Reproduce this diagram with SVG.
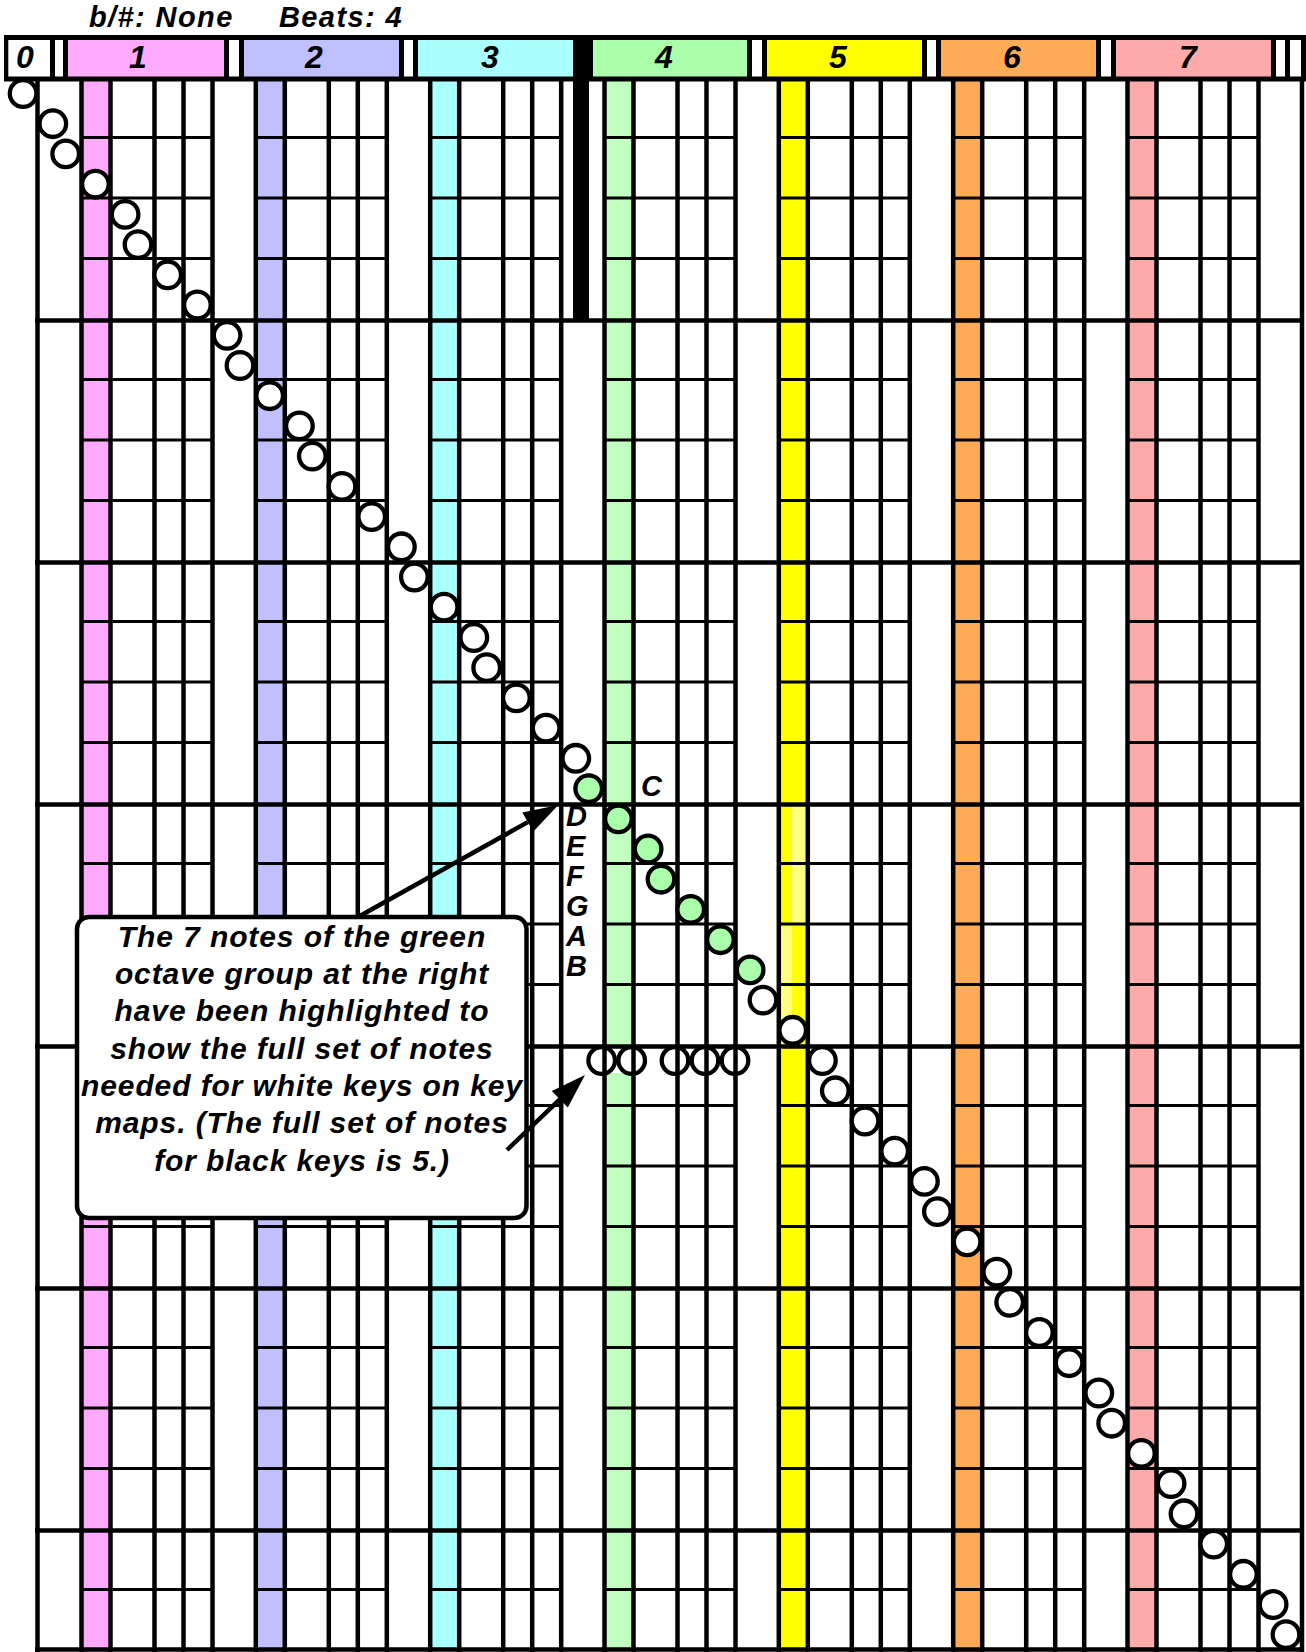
<svg xmlns="http://www.w3.org/2000/svg" xmlns:xlink="http://www.w3.org/1999/xlink" width="1306" height="1652" viewBox="0 0 1306 1652">
<style>
text{font-family:"Liberation Sans",Arial,sans-serif;font-weight:bold;font-style:italic;fill:#000}
.ln{stroke:#000;stroke-width:4.5;fill:none}
.bt{stroke:#000;stroke-width:3;fill:none}
.n{fill:#fff;stroke:#000;stroke-width:4.3}
.g{fill:#aaffaa;stroke:#000;stroke-width:4.3}
.k{fill:none;stroke:#000;stroke-width:4.3}
.hd{font-size:32px;text-anchor:middle}
.tt{font-size:29px;letter-spacing:1.4px}
.lb{font-size:29px}
.ct{font-size:30px;text-anchor:middle;letter-spacing:0.9px}
.ar{stroke:#000;stroke-width:4.5;fill:none}
</style>
<defs>
<g id="oct">
<path class="bt" d="M0 137.5H131M0 198H131M0 258.5H131M0 379.5H131M0 440H131M0 500.5H131M0 621.5H131M0 682H131M0 742.5H131M0 863.5H131M0 924H131M0 984.5H131M0 1105.5H131M0 1166H131M0 1226.5H131M0 1347.5H131M0 1408H131M0 1468.5H131M0 1589.5H131"/>
<path class="ln" d="M0 78V1652M29 78V1652M73 78V1652M102 78V1652M131 78V1652"/>
</g>
</defs>
<rect width="1306" height="1652" fill="#fff"/>
<g id="stripes">
<rect x="81.5" y="80" width="29" height="1572" fill="#ffaaff"/>
<rect x="255.8" y="80" width="29" height="1572" fill="#c0c0ff"/>
<rect x="430.2" y="80" width="29" height="1572" fill="#aaffff"/>
<rect x="604.5" y="80" width="29" height="1572" fill="#c0ffc0"/>
<rect x="778.8" y="80" width="29" height="1572" fill="#ffff00"/>
<rect x="953.2" y="80" width="29" height="1572" fill="#ffaa55"/>
<rect x="1127.5" y="80" width="29" height="1572" fill="#ffaaaa"/>
<rect x="792" y="806.5" width="14" height="119" fill="#ffff80"/>
<rect x="781" y="926.5" width="11" height="119" fill="#ffff80"/>
<rect x="606" y="1048" width="26" height="25" fill="#fff"/>
</g>
<g id="grid">
<use xlink:href="#oct" x="81.5"/>
<use xlink:href="#oct" x="255.8"/>
<use xlink:href="#oct" x="430.2"/>
<use xlink:href="#oct" x="604.5"/>
<use xlink:href="#oct" x="778.8"/>
<use xlink:href="#oct" x="953.2"/>
<use xlink:href="#oct" x="1127.5"/>
<path class="ln" d="M37.5 78V1652M1302 78V1652M35 320.5H1304M35 562.5H1304M35 804.5H1304M35 1046.5H1304M35 1288.5H1304M35 1530.5H1304M35 1649.5H1304"/>
<rect x="573" y="78" width="16" height="242" fill="#000"/>
</g>
<g id="header">
<rect x="4" y="35" width="1302" height="46.5" fill="#000"/>
<rect x="8.3" y="40" width="41.7" height="36.5" fill="#fff"/>
<rect x="55" y="40" width="8" height="36.5" fill="#fff"/>
<rect x="68" y="40" width="156" height="36.5" fill="#ffaaff"/>
<rect x="229" y="40" width="10" height="36.5" fill="#fff"/>
<rect x="244" y="40" width="155" height="36.5" fill="#c0c0ff"/>
<rect x="404" y="40" width="9" height="36.5" fill="#fff"/>
<rect x="418" y="40" width="155" height="36.5" fill="#aaffff"/>
<rect x="593" y="40" width="154" height="36.5" fill="#aaffaa"/>
<rect x="752" y="40" width="10" height="36.5" fill="#fff"/>
<rect x="767" y="40" width="155" height="36.5" fill="#ffff00"/>
<rect x="927" y="40" width="9" height="36.5" fill="#fff"/>
<rect x="941" y="40" width="155" height="36.5" fill="#ffaa55"/>
<rect x="1101" y="40" width="10" height="36.5" fill="#fff"/>
<rect x="1116" y="40" width="155" height="36.5" fill="#ffaaaa"/>
<rect x="1276" y="40" width="9" height="36.5" fill="#fff"/>
<rect x="1290" y="40" width="11" height="36.5" fill="#fff"/>
<text class="hd" x="25" y="68">0</text>
<text class="hd" x="138" y="68">1</text>
<text class="hd" x="314" y="68">2</text>
<text class="hd" x="490" y="68">3</text>
<text class="hd" x="664" y="68">4</text>
<text class="hd" x="838" y="68">5</text>
<text class="hd" x="1012" y="68">6</text>
<text class="hd" x="1188" y="68">7</text>
<text class="tt" x="89" y="27">b/#: None</text>
<text class="tt" x="279" y="27">Beats: 4</text>
</g>
<g id="notes">
<circle id="n1" class="n" cx="23.1" cy="93.5" r="13.3"/>
<circle id="n2" class="n" cx="52.8" cy="123.7" r="13.3"/>
<circle id="n3" class="n" cx="65.7" cy="153.9" r="13.3"/>
<circle id="n4" class="n" cx="95.4" cy="184.2" r="13.3"/>
<circle id="n5" class="n" cx="125.1" cy="214.4" r="13.3"/>
<circle id="n6" class="n" cx="138" cy="244.6" r="13.3"/>
<circle id="n7" class="n" cx="167.7" cy="274.8" r="13.3"/>
<circle id="n8" class="n" cx="197.4" cy="305" r="13.3"/>
<circle id="n9" class="n" cx="227.1" cy="335.3" r="13.3"/>
<circle id="n10" class="n" cx="240" cy="365.5" r="13.3"/>
<circle id="n11" class="n" cx="269.7" cy="395.7" r="13.3"/>
<circle id="n12" class="n" cx="299.4" cy="425.9" r="13.3"/>
<circle id="n13" class="n" cx="312.3" cy="456.1" r="13.3"/>
<circle id="n14" class="n" cx="342" cy="486.4" r="13.3"/>
<circle id="n15" class="n" cx="371.7" cy="516.6" r="13.3"/>
<circle id="n16" class="n" cx="401.4" cy="546.8" r="13.3"/>
<circle id="n17" class="n" cx="414.4" cy="577" r="13.3"/>
<circle id="n18" class="n" cx="444.1" cy="607.2" r="13.3"/>
<circle id="n19" class="n" cx="473.8" cy="637.5" r="13.3"/>
<circle id="n20" class="n" cx="486.7" cy="667.7" r="13.3"/>
<circle id="n21" class="n" cx="516.4" cy="697.9" r="13.3"/>
<circle id="n22" class="n" cx="546.1" cy="728.1" r="13.3"/>
<circle id="n23" class="n" cx="575.8" cy="758.3" r="13.3"/>
<circle id="n24" class="g" cx="588.7" cy="788.6" r="13.3"/>
<circle id="n25" class="g" cx="618.4" cy="818.8" r="13.3"/>
<circle id="n26" class="g" cx="648.1" cy="849" r="13.3"/>
<circle id="n27" class="g" cx="661" cy="879.2" r="13.3"/>
<circle id="n28" class="g" cx="690.7" cy="909.4" r="13.3"/>
<circle id="n29" class="g" cx="720.4" cy="939.7" r="13.3"/>
<circle id="n30" class="g" cx="750.1" cy="969.9" r="13.3"/>
<circle id="n31" class="n" cx="763" cy="1000.1" r="13.3"/>
<circle id="n32" class="n" cx="792.7" cy="1030.3" r="13.3"/>
<circle id="n33" class="n" cx="822.4" cy="1060.5" r="13.3"/>
<circle id="n34" class="n" cx="835.3" cy="1090.8" r="13.3"/>
<circle id="n35" class="n" cx="865" cy="1121" r="13.3"/>
<circle id="n36" class="n" cx="894.7" cy="1151.2" r="13.3"/>
<circle id="n37" class="n" cx="924.4" cy="1181.4" r="13.3"/>
<circle id="n38" class="n" cx="937.4" cy="1211.6" r="13.3"/>
<circle id="n39" class="n" cx="967.1" cy="1241.9" r="13.3"/>
<circle id="n40" class="n" cx="996.8" cy="1272.1" r="13.3"/>
<circle id="n41" class="n" cx="1009.7" cy="1302.3" r="13.3"/>
<circle id="n42" class="n" cx="1039.4" cy="1332.5" r="13.3"/>
<circle id="n43" class="n" cx="1069.1" cy="1362.7" r="13.3"/>
<circle id="n44" class="n" cx="1098.8" cy="1393" r="13.3"/>
<circle id="n45" class="n" cx="1111.7" cy="1423.2" r="13.3"/>
<circle id="n46" class="n" cx="1141.4" cy="1453.4" r="13.3"/>
<circle id="n47" class="n" cx="1171.1" cy="1483.6" r="13.3"/>
<circle id="n48" class="n" cx="1184" cy="1513.8" r="13.3"/>
<circle id="n49" class="n" cx="1213.7" cy="1544.1" r="13.3"/>
<circle id="n50" class="n" cx="1243.4" cy="1574.3" r="13.3"/>
<circle id="n51" class="n" cx="1273.1" cy="1604.5" r="13.3"/>
<circle id="n52" class="n" cx="1286" cy="1634.7" r="13.3"/>
</g>
<g id="black-keys">
<circle id="k1" class="k" cx="601.7" cy="1060.5" r="13.3"/>
<circle id="k2" class="k" cx="631.7" cy="1060.5" r="13.3"/>
<circle id="k3" class="k" cx="675" cy="1060.5" r="13.3"/>
<circle id="k4" class="k" cx="705" cy="1060.5" r="13.3"/>
<circle id="k5" class="k" cx="735" cy="1060.5" r="13.3"/>
</g>
<g id="note-labels">
<text class="lb" x="641" y="796">C</text>
<text class="lb" x="566" y="826">D</text>
<text class="lb" x="566" y="856">E</text>
<text class="lb" x="566" y="886">F</text>
<text class="lb" x="566" y="916">G</text>
<text class="lb" x="566" y="946">A</text>
<text class="lb" x="566" y="976">B</text>
</g>
<g id="callout">
<rect x="77" y="917" width="449.5" height="301" rx="12" ry="12" fill="#fff" stroke="#000" stroke-width="4.5"/>
<text class="ct" x="302" y="946.7">The 7 notes of the green</text>
<text class="ct" x="302" y="984">octave group at the right</text>
<text class="ct" x="302" y="1021.3">have been highlighted to</text>
<text class="ct" x="302" y="1058.7">show the full set of notes</text>
<text class="ct" x="302" y="1096">needed for white keys on key</text>
<text class="ct" x="302" y="1133.3">maps. (The full set of notes</text>
<text class="ct" x="302" y="1170.7">for black keys is 5.)</text>
</g>
<g id="connectors">
<path class="ar" d="M358 917L527.8 822.1"/>
<polygon points="558.3,805 533.2,831.7 522.4,812.5" fill="#000"/>
<path class="ar" d="M507 1150L559.8 1099.3"/>
<polygon points="585,1075 567.8,1107.6 551.8,1091" fill="#000"/>
</g>
</svg>
